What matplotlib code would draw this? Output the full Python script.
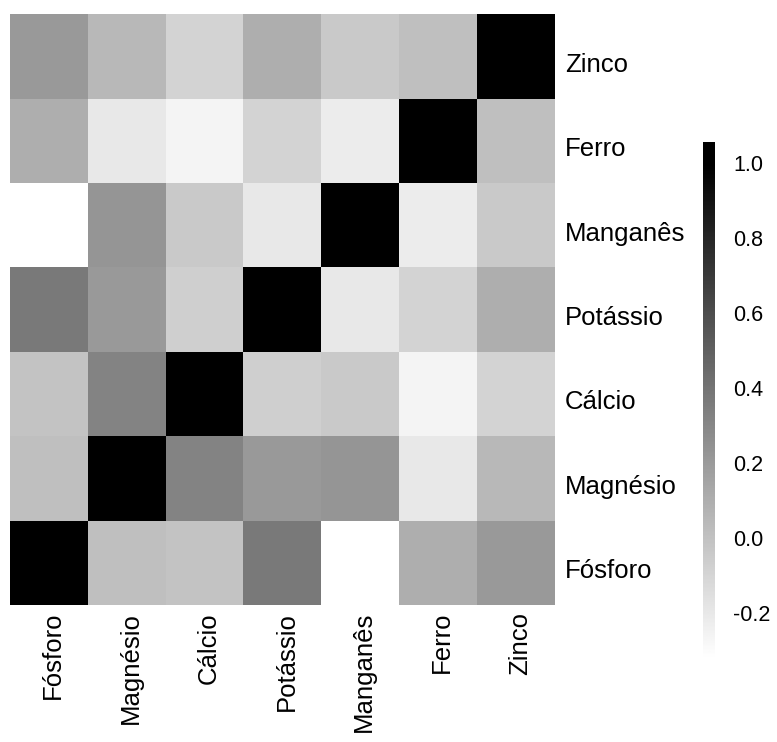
import numpy as np
import matplotlib.pyplot as plt
import matplotlib.transforms as mtransforms

plt.rcParams['font.family'] = ['Liberation Sans', 'DejaVu Sans']

## Variáveis (ordem de baixo para cima / esquerda para direita)
nutrientes = ['Fósforo', 'Magnésio', 'Cálcio', 'Potássio', 'Manganês', 'Ferro', 'Zinco']

## Matriz de correlação
corr = np.array([
    [ 1.00,  0.01, -0.01,  0.37, -0.32,  0.10,  0.21],
    [ 0.01,  1.00,  0.32,  0.21,  0.23, -0.20,  0.05],
    [-0.01,  0.32,  1.00, -0.07, -0.04, -0.26, -0.09],
    [ 0.37,  0.21, -0.07,  1.00, -0.20, -0.09,  0.10],
    [-0.32,  0.23, -0.04, -0.20,  1.00, -0.22, -0.04],
    [ 0.10, -0.20, -0.26, -0.09, -0.22,  1.00,  0.01],
    [ 0.21,  0.05, -0.09,  0.10, -0.04,  0.01,  1.00],
])

cbar_ticks = [-0.2, 0.0, 0.2, 0.4, 0.6, 0.8, 1.0]

vmin = corr.min()
vmax = corr.max()
n = len(nutrientes)

fig = plt.figure(figsize=(7.77, 7.42), dpi=100)

ax = fig.add_axes([10/777, 1 - 605/742, 545/777, 591/742])
ax.imshow(corr, cmap='gray_r', vmin=vmin, vmax=vmax, origin='lower',
          aspect='auto', interpolation='nearest')
for s in ax.spines.values():
    s.set_visible(False)
ax.set_xticks(range(n))
ax.set_xticklabels(nutrientes, rotation=90, fontsize=18.5)
ax.set_yticks(range(n))
ax.set_yticklabels(nutrientes, fontsize=18.5)
ax.yaxis.tick_right()
ax.tick_params(axis='x', length=0, pad=5)
ax.tick_params(axis='y', length=0, pad=7)

# pequeno deslocamento dos rótulos
dx = mtransforms.ScaledTranslation(4/100, 0, fig.dpi_scale_trans)
dy = mtransforms.ScaledTranslation(0, -6/100, fig.dpi_scale_trans)
for lab in ax.get_xticklabels():
    lab.set_transform(lab.get_transform() + dx)
for lab in ax.get_yticklabels():
    lab.set_transform(lab.get_transform() + dy)

# barra de cores
lo, hi = -0.325, 1.055
cax = fig.add_axes([703/777, 1 - 660/742, 12/777, 518/742])
grad = np.linspace(lo, hi, 400).reshape(-1, 1)
cax.imshow(grad, cmap='gray_r', vmin=vmin, vmax=vmax, origin='lower',
           aspect='auto', extent=[0, 1, lo, hi])
cax.set_ylim(lo, hi)
cax.set_xticks([])
cax.set_yticks(cbar_ticks)
cax.set_yticklabels([f'{t:.1f}' for t in cbar_ticks], fontsize=15.5)
cax.yaxis.tick_right()
cax.tick_params(axis='y', length=0, pad=13)
for s in cax.spines.values():
    s.set_visible(False)

fig.savefig('out.png', dpi=100)
